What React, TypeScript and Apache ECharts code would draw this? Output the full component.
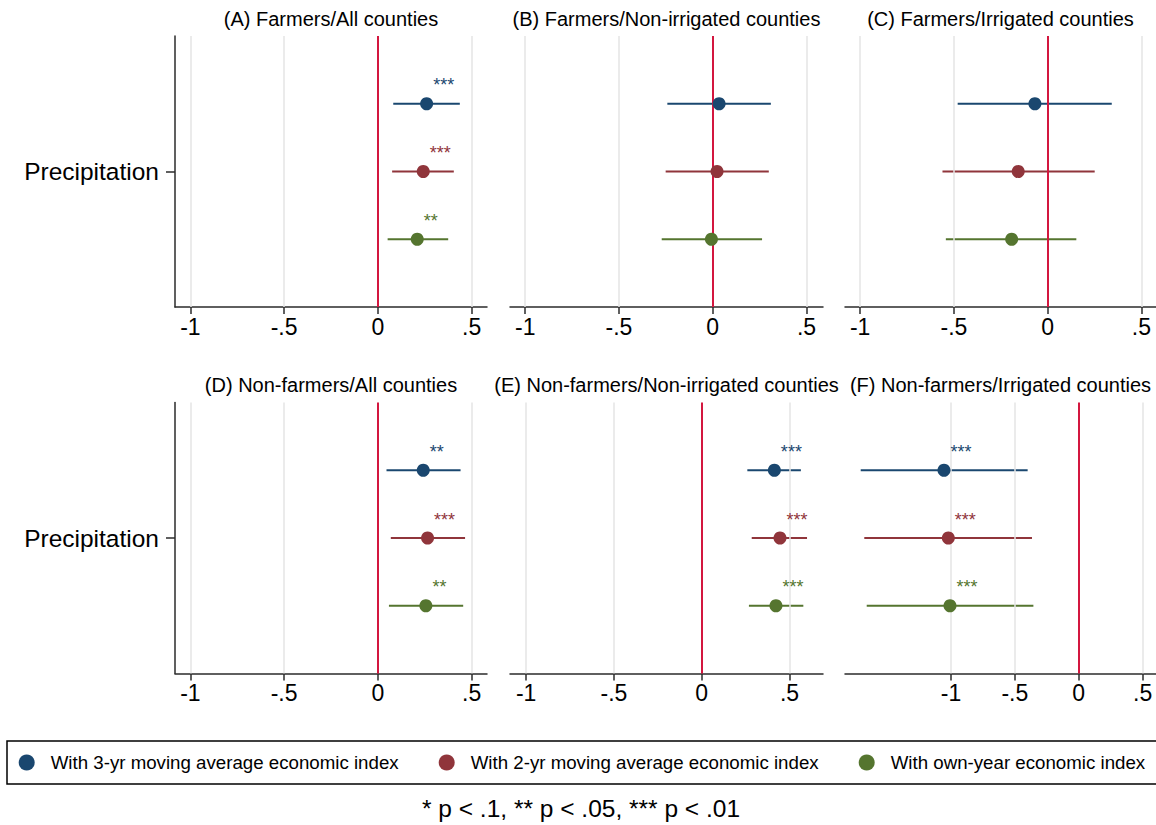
import React, { useEffect, useRef } from 'react';
import * as echarts from 'echarts';

// ---------- data ----------
const panelTitles = [
  '(A) Farmers/All counties',
  '(B) Farmers/Non-irrigated counties',
  '(C) Farmers/Irrigated counties',
  '(D) Non-farmers/All counties',
  '(E) Non-farmers/Non-irrigated counties',
  '(F) Non-farmers/Irrigated counties',
];
const modelNames = [
  'With 3-yr moving average economic index',
  'With 2-yr moving average economic index',
  'With own-year economic index',
];
const modelColors = ['#1a476f', '#90353b', '#55752f'];
const modelRows = [1, 2, 3];
const rowLabel = 'Precipitation';
const rowLabelValue = 2;

// coefficients per panel (A..F)
const coef3yr = [0.26, 0.034, -0.068, 0.242, 0.414, -1.055];
const lo3yr = [0.082, -0.242, -0.48, 0.046, 0.26, -1.707];
const hi3yr = [0.437, 0.31, 0.342, 0.441, 0.565, -0.4];
const stars3yr = ['***', '', '', '**', '***', '***'];

const coef2yr = [0.242, 0.023, -0.157, 0.265, 0.446, -1.021];
const lo2yr = [0.076, -0.251, -0.561, 0.069, 0.285, -1.679];
const hi2yr = [0.405, 0.299, 0.251, 0.465, 0.6, -0.366];
const stars2yr = ['***', '', '', '***', '***', '***'];

const coefOwn = [0.21, -0.007, -0.192, 0.256, 0.423, -1.008];
const loOwn = [0.052, -0.272, -0.543, 0.059, 0.269, -1.66];
const hiOwn = [0.375, 0.263, 0.153, 0.455, 0.579, -0.355];
const starsOwn = ['**', '', '', '**', '***', '***'];

const xMin = [-1.082, -1.081, -1.081, -1.082, -1.092, -1.83];
const xMax = [0.582, 0.588, 0.578, 0.582, 0.691, 0.605];
const xTickValues = [-1, -0.5, 0, 0.5];
const xTickLabels = ['-1', '-.5', '0', '.5'];
const gridLineValues = [-1, -0.5, 0.5];
const zeroValue = 0;
const footnote = '* p < .1, ** p < .05, *** p < .01';

const coefs = [coef3yr, coef2yr, coefOwn];
const los = [lo3yr, lo2yr, loOwn];
const his = [hi3yr, hi2yr, hiOwn];
const stars = [stars3yr, stars2yr, starsOwn];

// ---------- layout / style ----------
const FONT = "'Liberation Sans', Arial, Helvetica, sans-serif";
const colLeft = [175, 510, 845];
const colWidth = [312, 313, 311];
const rowTop = [36, 402.5];
const plotH = 271;
const axisColor = '#2b2b2b';
const zeroColor = '#d3173f';
const gridColor = '#e4e4e4';

function tickLabel(v: number) {
  for (let i = 0; i < xTickValues.length; i++) {
    if (Math.abs(xTickValues[i] - v) < 1e-6) return xTickLabels[i];
  }
  return '';
}

function buildOption() {
  const grid: any[] = [];
  const xAxis: any[] = [];
  const yAxis: any[] = [];
  const series: any[] = [];
  const graphic: any[] = [];

  for (let p = 0; p < 6; p++) {
    const r = Math.floor(p / 3);
    const c = p % 3;
    const first = c === 0;
    grid.push({ left: colLeft[c], top: rowTop[r], width: colWidth[c], height: plotH, containLabel: false });
    xAxis.push({
      type: 'value', gridIndex: p, min: xMin[p], max: xMax[p],
      axisLine: { show: true, onZero: false, lineStyle: { color: axisColor, width: 1.5 } },
      axisTick: { show: true, customValues: xTickValues, length: 7, lineStyle: { color: axisColor, width: 1.5 } },
      axisLabel: { show: true, customValues: xTickValues, formatter: (v: number) => tickLabel(v), fontSize: 23, margin: 8, color: '#000', fontFamily: FONT },
      splitLine: { show: false },
    });
    yAxis.push({
      type: 'value', gridIndex: p, min: 0, max: 4, inverse: true,
      axisLine: { show: first, onZero: false, lineStyle: { color: axisColor, width: 1.5 } },
      axisTick: { show: first, customValues: [rowLabelValue], length: 9, lineStyle: { color: axisColor, width: 1.5 } },
      axisLabel: { show: first, customValues: [rowLabelValue], formatter: () => rowLabel, fontSize: 24.5, margin: 16, color: '#000', fontFamily: FONT },
      splitLine: { show: false },
    });
    // grid lines
    series.push({
      type: 'line', xAxisIndex: p, yAxisIndex: p, data: [], silent: true, z: 0,
      markLine: {
        silent: true, symbol: ['none', 'none'], label: { show: false }, animation: false,
        lineStyle: { color: gridColor, width: 1.5, type: 'solid' },
        emphasis: { disabled: true },
        data: gridLineValues.map((v) => ({ xAxis: v })),
      },
    });
    // CI lines
    for (let m = 0; m < 3; m++) {
      series.push({
        type: 'line', name: 'ci' + m, xAxisIndex: p, yAxisIndex: p, silent: true, z: 2,
        symbol: 'none', showSymbol: false,
        lineStyle: { color: modelColors[m], width: 2.2 },
        data: [[los[m][p], modelRows[m]], [his[m][p], modelRows[m]]],
      });
    }
    // zero line
    series.push({
      type: 'line', xAxisIndex: p, yAxisIndex: p, data: [], silent: true, z: 3,
      markLine: {
        silent: true, symbol: ['none', 'none'], label: { show: false }, animation: false,
        lineStyle: { color: zeroColor, width: 2, type: 'solid' },
        emphasis: { disabled: true },
        data: [{ xAxis: zeroValue }],
      },
    });
    // points + stars
    for (let m = 0; m < 3; m++) {
      series.push({
        type: 'scatter', name: modelNames[m], xAxisIndex: p, yAxisIndex: p, z: 5,
        symbol: 'circle', symbolSize: 13,
        itemStyle: { color: modelColors[m], opacity: 1 },
        label: {
          show: true, position: 'right', distance: 0, offset: [0, -18.5],
          formatter: () => stars[m][p], fontSize: 18, color: modelColors[m], fontFamily: FONT,
        },
        data: [[coefs[m][p], modelRows[m]]],
      });
    }
    graphic.push({
      type: 'text', x: colLeft[c] + colWidth[c] / 2, y: r === 0 ? 18.5 : 385,
      style: { text: panelTitles[p], fontSize: 20, fontFamily: FONT, fill: '#000', align: 'center', verticalAlign: 'middle' },
    });
  }

  graphic.push({
    type: 'rect', shape: { x: 7, y: 741, width: 1170, height: 43 },
    style: { fill: 'none', stroke: '#000', lineWidth: 1.5 }, z: -1,
  });
  graphic.push({
    type: 'text', x: 581, y: 808,
    style: { text: footnote, fontSize: 24.5, fontFamily: FONT, fill: '#000', align: 'center', verticalAlign: 'middle' },
  });

  const legend = modelNames.map((n, i) => ({
    data: [n], left: 18.7 + 420 * i, top: 753, padding: 0,
    icon: 'circle', itemWidth: 16, itemHeight: 16, selectedMode: false,
    textStyle: { fontSize: 18.7, color: '#000', fontFamily: FONT, padding: [0, 0, 0, 11] },
  }));

  return {
    animation: false,
    backgroundColor: '#fff',
    textStyle: { fontFamily: FONT },
    grid, xAxis, yAxis, series, graphic, legend,
  };
}

export default function App() {
  const ref = useRef<HTMLDivElement>(null);
  useEffect(() => {
    if (!ref.current) return;
    const chart = echarts.init(ref.current, undefined, { renderer: 'svg' });
    chart.setOption(buildOption() as any);
    return () => chart.dispose();
  }, []);
  return <div ref={ref} style={{ position: 'fixed', left: 0, top: 0, width: 1156, height: 825 }} />;
}
